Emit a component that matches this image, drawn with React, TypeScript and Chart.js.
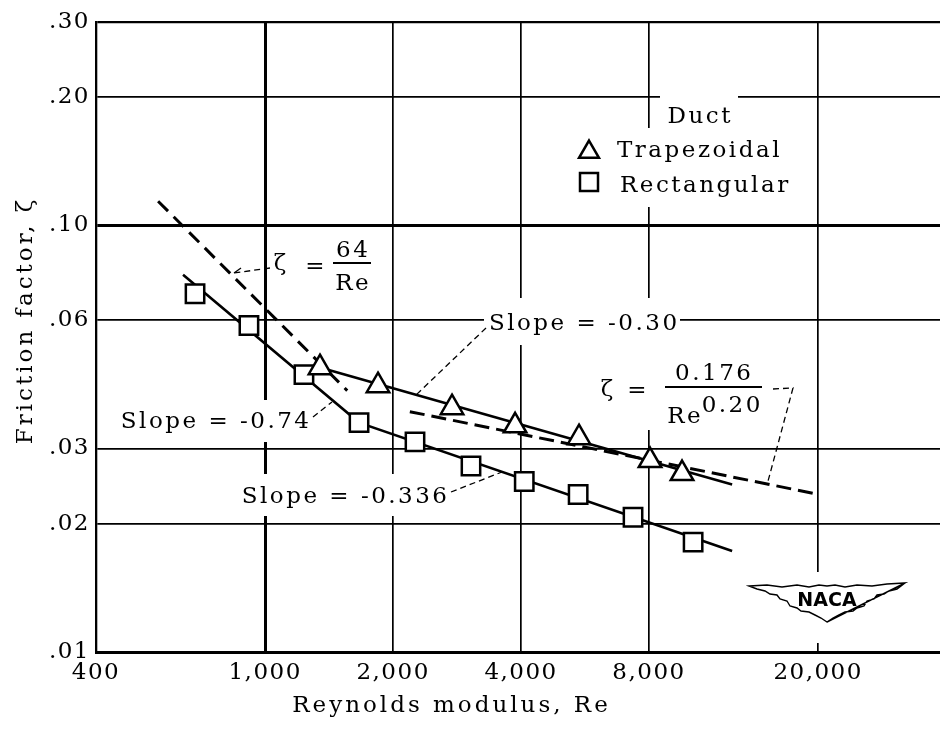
import React, { useEffect, useRef } from "react";
import { Chart, registerables } from "chart.js";

Chart.register(...registerables);

// ---------------- Data ----------------
const trapezoidalRe = [1346, 1843, 2752, 3873, 5476, 8045, 9568];
const trapezoidalZeta = [0.0464, 0.0421, 0.0374, 0.0339, 0.0318, 0.0281, 0.0262];

const rectangularRe = [684, 916, 1234, 1663, 2252, 3050, 4070, 5450, 7337, 10160];
const rectangularZeta = [0.0692, 0.0583, 0.0447, 0.0345, 0.0311, 0.0273, 0.0251, 0.0234, 0.0207, 0.0181];

// faired curves drawn through the data (end / break points)
const trapezoidalFitRe = [1320, 12550];
const trapezoidalFitZeta = [0.0467, 0.0247];
const rectangularFitRe = [641, 1663, 12550];
const rectangularFitZeta = [0.0767, 0.0345, 0.01726];

// reference curves (end points)
const laminarRe = [560, 1560];
const laminarZeta = [0.114, 0.041];
const turbulentRe = [2190, 20100];
const turbulentZeta = [0.0366, 0.0234];

const xTickValues = [400, 1000, 2000, 4000, 8000, 20000];
const xTickLabels = ["400", "1,000", "2,000", "4,000", "8,000", "20,000"];
const yTickValues = [0.01, 0.02, 0.03, 0.06, 0.1, 0.2, 0.3];
const yTickLabels = [".01", ".02", ".03", ".06", ".10", ".20", ".30"];
const xRange = [400, 38700];
const yRange = [0.01, 0.3];

const xTitle = "Reynolds modulus, Re";
const yTitle = "Friction factor, ζ";
const legendTitle = "Duct";
const seriesNames = ["Trapezoidal", "Rectangular"];

// ---------------- Styling ----------------
const FAMILY = "'DejaVu Serif', 'Liberation Serif', serif";
const SIZE = 23;
const TICK_SPACING = "1.5px";
const NOTE_SPACING = 2.5;
const TITLE_SPACING = 3;
const W = 940;
const H = 734;

type Pt = { x: number; y: number };
const zip = (xs: number[], ys: number[]): Pt[] => xs.map((x, i) => ({ x, y: ys[i] }));

const near = (a: number, b: number) => Math.abs(a - b) <= Math.abs(b) * 1e-6;

function setSpacing(ctx: any, v: string) {
  try {
    ctx.letterSpacing = v;
  } catch (e) {
    /* ignore */
  }
}

function txt(
  ctx: CanvasRenderingContext2D,
  s: string,
  x: number,
  y: number,
  align: CanvasTextAlign = "center",
  spacing = NOTE_SPACING,
  size = SIZE
) {
  setSpacing(ctx, `${spacing}px`);
  ctx.font = `${size}px ${FAMILY}`;
  ctx.textAlign = align;
  ctx.textBaseline = "alphabetic";
  ctx.fillStyle = "#000";
  // compensate for the trailing letter spacing
  const dx = align === "center" ? spacing / 2 : align === "right" ? spacing : 0;
  ctx.fillText(s, x + dx, y);
}

function poly(
  ctx: CanvasRenderingContext2D,
  pts: number[][],
  width = 1.3,
  dash: number[] = [6, 4]
) {
  ctx.save();
  ctx.setLineDash(dash);
  ctx.lineWidth = width;
  ctx.strokeStyle = "#000";
  ctx.beginPath();
  pts.forEach((p, i) => (i === 0 ? ctx.moveTo(p[0], p[1]) : ctx.lineTo(p[0], p[1])));
  ctx.stroke();
  ctx.restore();
}

function bar(ctx: CanvasRenderingContext2D, x1: number, x2: number, y: number) {
  poly(ctx, [[x1, y], [x2, y]], 2, []);
}

// white areas behind labels, where the grid is interrupted
const whiteBoxes = [
  [660, 90, 738, 128],
  [572, 128, 794, 207],
  [114, 400, 313, 442],
  [484, 298, 680, 345],
  [595, 345, 800, 430],
  [234, 474, 449, 516],
  [745, 572, 910, 643],
];

function drawLogo(ctx: CanvasRenderingContext2D, cx: number, cy: number) {
  const top = [
    [-78, -14], [-60, -15], [-45, -13], [-30, -15], [-18, -13], [-8, -15], [0, -14],
    [8, -15], [18, -13], [30, -15], [45, -14], [60, -16], [78, -17],
  ];
  const lowerLeft = [
    [-78, -14], [-70, -11], [-62, -9], [-57, -6], [-50, -5], [-47, -1], [-40, 1],
    [-37, 6], [-30, 8], [-26, 11], [-18, 12], [-12, 15], [-6, 18], [0, 22],
  ];
  const lowerRight = lowerLeft.map(([x, y]) => [-x, y - (x === -78 ? 3 : 0)]).reverse();
  ctx.save();
  ctx.beginPath();
  top.forEach((p, i) => (i === 0 ? ctx.moveTo(cx + p[0], cy + p[1]) : ctx.lineTo(cx + p[0], cy + p[1])));
  lowerRight.forEach((p) => ctx.lineTo(cx + p[0], cy + p[1]));
  lowerLeft
    .slice()
    .reverse()
    .forEach((p) => ctx.lineTo(cx + p[0], cy + p[1]));
  ctx.closePath();
  ctx.fillStyle = "#fff";
  ctx.fill();
  ctx.lineWidth = 1.4;
  ctx.strokeStyle = "#000";
  ctx.setLineDash([]);
  ctx.stroke();
  setSpacing(ctx, "0px");
  ctx.font = "bold 19px 'DejaVu Sans', sans-serif";
  ctx.textAlign = "center";
  ctx.textBaseline = "middle";
  ctx.fillStyle = "#000";
  ctx.fillText("NACA", cx, cy + 1);
  ctx.restore();
}

function drawTriangle(ctx: CanvasRenderingContext2D, x: number, y: number, r: number) {
  ctx.beginPath();
  for (let k = 0; k < 3; k++) {
    const a = -Math.PI / 2 + (k * 2 * Math.PI) / 3;
    const px = x + r * Math.cos(a);
    const py = y + r * Math.sin(a);
    k === 0 ? ctx.moveTo(px, py) : ctx.lineTo(px, py);
  }
  ctx.closePath();
  ctx.fillStyle = "#fff";
  ctx.fill();
  ctx.lineWidth = 2.5;
  ctx.strokeStyle = "#000";
  ctx.stroke();
}

function drawSquare(ctx: CanvasRenderingContext2D, x: number, y: number, s: number) {
  ctx.fillStyle = "#fff";
  ctx.fillRect(x - s / 2, y - s / 2, s, s);
  ctx.lineWidth = 2.5;
  ctx.strokeStyle = "#000";
  ctx.strokeRect(x - s / 2, y - s / 2, s, s);
}

const figurePlugin = {
  id: "figureAnnotations",
  beforeInit(chart: any) {
    setSpacing(chart.ctx, TICK_SPACING);
  },
  beforeLayout(chart: any) {
    setSpacing(chart.ctx, TICK_SPACING);
  },
  beforeDraw(chart: any) {
    setSpacing(chart.ctx, TICK_SPACING);
  },
  beforeDatasetsDraw(chart: any) {
    const ctx: CanvasRenderingContext2D = chart.ctx;
    ctx.save();
    ctx.fillStyle = "#fff";
    whiteBoxes.forEach((b) => ctx.fillRect(b[0], b[1], b[2] - b[0], b[3] - b[1]));
    ctx.restore();
  },
  afterDatasetsDraw(chart: any) {
    const ctx: CanvasRenderingContext2D = chart.ctx;
    ctx.save();

    // zeta = 64 / Re
    txt(ctx, "ζ", 280, 270);
    txt(ctx, "=", 315, 273);
    txt(ctx, "64", 352, 257);
    bar(ctx, 333, 371, 263);
    txt(ctx, "Re", 352, 290);
    poly(ctx, [[270, 268], [234, 273]]);
    poly(ctx, [[234, 273], [241, 268]], 1.3, []);

    // slopes
    txt(ctx, "Slope = -0.74", 309, 428, "right");
    poly(ctx, [[313, 417], [332, 402]]);

    txt(ctx, "Slope = -0.30", 583, 330, "center");
    poly(ctx, [[486, 328], [415, 396]]);

    txt(ctx, "Slope = -0.336", 447, 503, "right");
    poly(ctx, [[451, 492], [502, 472]]);

    // zeta = 0.176 / Re^0.20
    txt(ctx, "ζ", 607, 396);
    txt(ctx, "=", 637, 397);
    txt(ctx, "0.176", 713, 380);
    bar(ctx, 665, 762, 387);
    txt(ctx, "Re", 684, 423);
    txt(ctx, "0.20", 731, 412);
    poly(ctx, [[773, 389], [793, 388], [767, 485]]);

    // legend
    txt(ctx, legendTitle, 699, 123);
    drawTriangle(ctx, 589, 152, 11.5);
    drawSquare(ctx, 589, 182, 18);
    txt(ctx, seriesNames[0], 617, 157, "left");
    txt(ctx, seriesNames[1], 620, 192, "left");

    // axis titles
    txt(ctx, xTitle, 450, 712, "center", TITLE_SPACING);
    ctx.save();
    ctx.translate(32, 322);
    ctx.rotate(-Math.PI / 2);
    txt(ctx, yTitle, 0, 0, "center", TITLE_SPACING);
    ctx.restore();

    // NACA logo
    drawLogo(ctx, 827, 600);
    ctx.restore();
    setSpacing(ctx, TICK_SPACING);
  },
};

function gridWidthX(c: any) {
  const v = c.tick ? c.tick.value : NaN;
  if (near(v, 1000)) return 3;
  return 1.7;
}
function gridWidthY(c: any) {
  const v = c.tick ? c.tick.value : NaN;
  if (near(v, 0.1)) return 3;
  if (near(v, 0.3)) return 2.2;
  return 1.7;
}

export default function App() {
  const ref = useRef<HTMLCanvasElement | null>(null);

  useEffect(() => {
    document.body.style.margin = "0";
    const canvas = ref.current;
    if (!canvas) return;

    const markerCommon = {
      showLine: false,
      pointBackgroundColor: "#fff",
      pointBorderColor: "#000",
      pointBorderWidth: 2.5,
      pointRadius: 13,
      pointHoverRadius: 13,
    };
    const lineCommon = {
      showLine: true,
      pointRadius: 0,
      pointHoverRadius: 0,
      borderColor: "#000",
      fill: false,
      tension: 0,
    };

    const chart = new Chart(canvas, {
      type: "scatter",
      data: {
        datasets: [
          {
            label: seriesNames[0],
            data: zip(trapezoidalRe, trapezoidalZeta),
            pointStyle: "triangle",
            ...markerCommon,
          },
          {
            label: seriesNames[1],
            data: zip(rectangularRe, rectangularZeta),
            pointStyle: "rect",
            ...markerCommon,
          },
          {
            label: "Trapezoidal fit",
            data: zip(trapezoidalFitRe, trapezoidalFitZeta),
            borderWidth: 2.6,
            ...lineCommon,
          },
          {
            label: "Rectangular fit",
            data: zip(rectangularFitRe, rectangularFitZeta),
            borderWidth: 2.6,
            ...lineCommon,
          },
          {
            label: "64/Re",
            data: zip(laminarRe, laminarZeta),
            borderWidth: 3,
            borderDash: [14, 8],
            ...lineCommon,
          },
          {
            label: "0.176/Re^0.20",
            data: zip(turbulentRe, turbulentZeta),
            borderWidth: 3,
            borderDash: [15, 7],
            ...lineCommon,
          },
        ] as any,
      },
      options: {
        animation: false,
        responsive: false,
        events: [],
        layout: { autoPadding: false, padding: { top: 22, left: 0, right: 0, bottom: 0 } },
        plugins: {
          legend: { display: false },
          tooltip: { enabled: false },
        },
        scales: {
          x: {
            type: "logarithmic",
            position: "bottom",
            min: xRange[0],
            max: xRange[1],
            afterBuildTicks: (scale: any) => {
              scale.ticks = xTickValues.map((v) => ({ value: v }));
            },
            afterFit: (scale: any) => {
              scale.height = 82;
            },
            ticks: {
              autoSkip: false,
              maxRotation: 0,
              padding: 7,
              color: "#000",
              font: { family: FAMILY, size: SIZE },
              callback: (value: any) => {
                const i = xTickValues.findIndex((t) => near(Number(value), t));
                return i >= 0 ? xTickLabels[i] : "";
              },
            },
            grid: {
              color: "#000",
              lineWidth: gridWidthX,
              drawTicks: false,
            },
            border: { display: true, color: "#000", width: 3 },
          },
          y: {
            type: "logarithmic",
            position: "left",
            min: yRange[0],
            max: yRange[1],
            afterBuildTicks: (scale: any) => {
              scale.ticks = yTickValues.map((v) => ({ value: v }));
            },
            afterFit: (scale: any) => {
              scale.width = 96;
            },
            ticks: {
              autoSkip: false,
              padding: 6,
              color: "#000",
              font: { family: FAMILY, size: SIZE },
              callback: (value: any) => {
                const i = yTickValues.findIndex((t) => near(Number(value), t));
                return i >= 0 ? yTickLabels[i] : "";
              },
            },
            grid: {
              color: "#000",
              lineWidth: gridWidthY,
              drawTicks: false,
            },
            border: { display: true, color: "#000", width: 2.3 },
          },
        },
      } as any,
      plugins: [figurePlugin as any],
    });

    return () => {
      chart.destroy();
    };
  }, []);

  return (
    <div style={{ position: "absolute", left: 0, top: 0, width: W, height: H, background: "#fff" }}>
      <canvas ref={ref} width={W} height={H} style={{ width: W, height: H, display: "block" }} />
    </div>
  );
}
